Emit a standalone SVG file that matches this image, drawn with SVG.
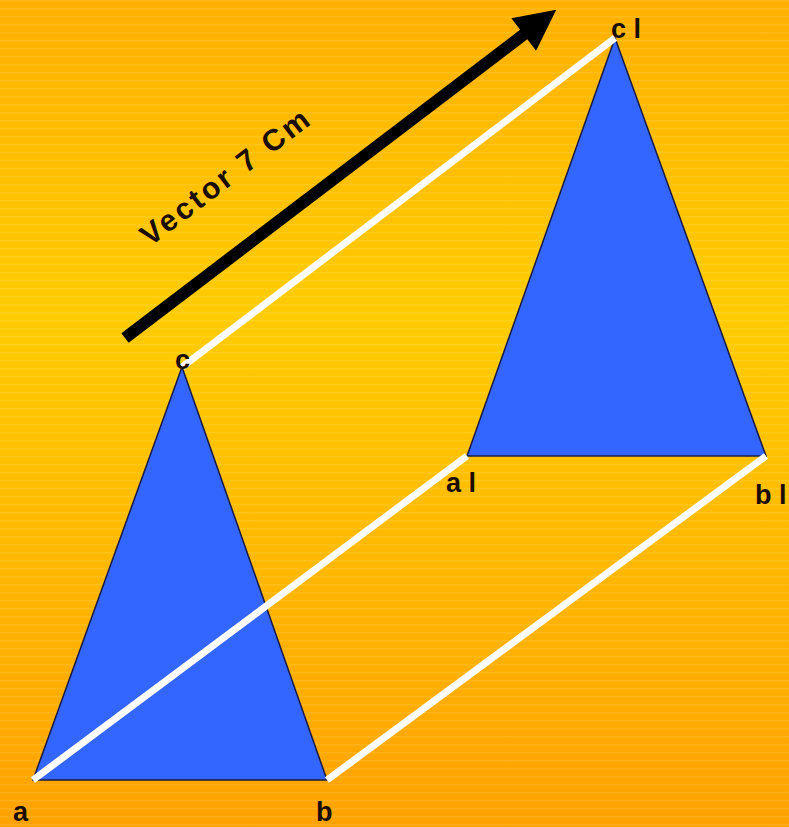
<svg xmlns="http://www.w3.org/2000/svg" width="789" height="827" viewBox="0 0 789 827">
<defs>
<linearGradient id="bg" x1="0" y1="0" x2="0" y2="1">
<stop offset="0" stop-color="#FFB000"/>
<stop offset="0.38" stop-color="#FFCC00"/>
<stop offset="1" stop-color="#FFA200"/>
</linearGradient>
<pattern id="stripes" width="10" height="8" patternUnits="userSpaceOnUse">
<rect x="0" y="0" width="10" height="1.5" fill="#ffffff" opacity="0.10"/>
</pattern>
<marker id="head" viewBox="0 0 10 10" refX="1" refY="5" markerWidth="3.6" markerHeight="3.4" orient="auto" markerUnits="strokeWidth">
<path d="M0,0 L10,5 L0,10 z" fill="#000"/>
</marker>
<style>
.tri{fill:#3366FF;stroke:#1a1a40;stroke-width:1.5}
.conn{stroke:#ffffff;stroke-width:7;stroke-linecap:butt;fill:none}
.lbl{font-family:"Liberation Sans",Arial,sans-serif;font-weight:bold;font-size:27px;fill:#1a0d00}
</style>
</defs>
<rect width="789" height="827" fill="url(#bg)"/>
<rect width="789" height="827" fill="url(#stripes)"/>
<g id="triangle-abc">
<polygon class="tri" points="33,780 327,780 182,367"/>
</g>
<g id="triangle-a1b1c1">
<polygon class="tri" points="467,456 766,456 615,38"/>
</g>
<g id="connectors">
<line class="conn" x1="182" y1="367" x2="615" y2="38"/>
<line class="conn" x1="33" y1="780" x2="467" y2="456"/>
<line class="conn" x1="327" y1="780" x2="766" y2="456"/>
</g>
<g id="vector">
<line x1="125" y1="338" x2="527" y2="32" stroke="#000" stroke-width="12" marker-end="url(#head)"/>
<text class="lbl" style="font-size:30px;letter-spacing:3px" transform="translate(150,247) rotate(-37.3)">Vector 7 Cm</text>
</g>
<g id="labels">
<text class="lbl" x="13" y="821">a</text>
<text class="lbl" x="316" y="821">b</text>
<text class="lbl" x="175" y="369">c</text>
<text class="lbl" x="611" y="38">c l</text>
<text class="lbl" x="446" y="492">a l</text>
<text class="lbl" x="755" y="504">b l</text>
</g>
</svg>
